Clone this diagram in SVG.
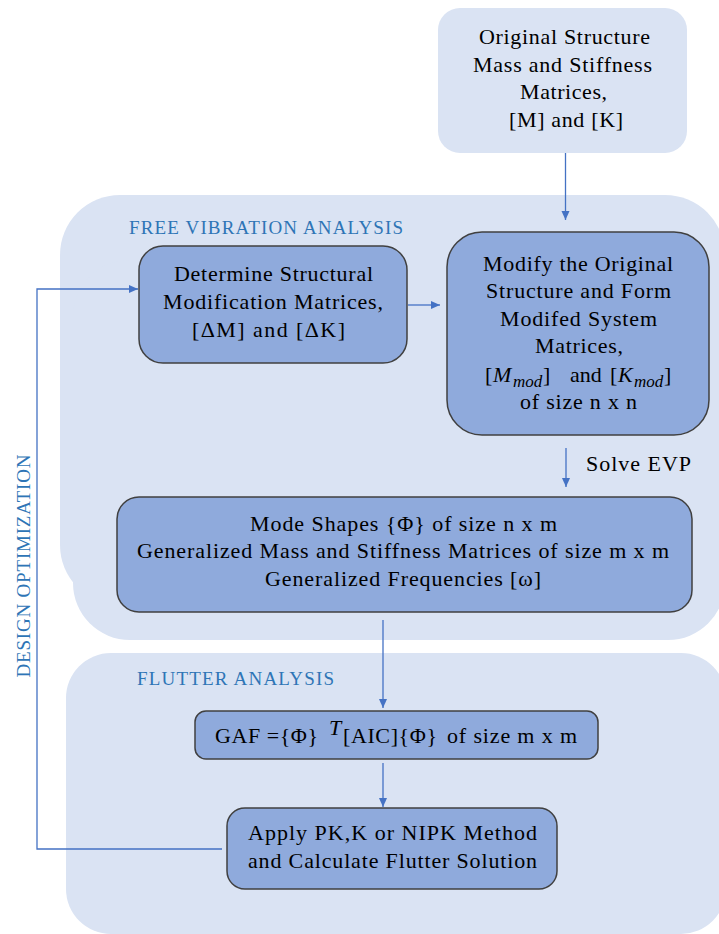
<svg xmlns="http://www.w3.org/2000/svg" width="719" height="934" viewBox="0 0 719 934">
  <defs>
    <marker id="arrow" markerWidth="10" markerHeight="10" refX="9" refY="5" orient="auto" markerUnits="userSpaceOnUse">
      <path d="M0,1 L9,5 L0,9 z" fill="#4472c4"/>
    </marker>
  </defs>
  <style>
    .panel{fill:#dae3f3}
    .box{fill:#8faadc;stroke:#404040;stroke-width:1.5}
    .t{font-family:"Liberation Serif","Times New Roman",serif;font-size:22px;fill:#000}
    .lbl{font-family:"Liberation Serif","Times New Roman",serif;font-size:19px;fill:#2e75b6}
    .conn{stroke:#4472c4;stroke-width:1.3;fill:none}
  </style>

  <rect width="719" height="934" fill="#ffffff"/>

  <!-- background panels -->
  <g id="panel-free-vibration">
    <rect class="panel" x="60" y="195" width="665" height="410" rx="60"/>
    <rect class="panel" x="73" y="260" width="652" height="380" rx="57"/>
    <text class="lbl" x="129" y="234" textLength="274" lengthAdjust="spacing">FREE VIBRATION ANALYSIS</text>
  </g>
  <g id="panel-flutter">
    <rect class="panel" x="66" y="653" width="660" height="281" rx="45"/>
    <text class="lbl" x="137" y="685" textLength="197" lengthAdjust="spacing">FLUTTER ANALYSIS</text>
  </g>

  <!-- nodes -->
  <g id="node-original">
    <rect class="panel" x="438" y="8" width="249" height="145" rx="22"/>
    <text class="t" x="479" y="44" textLength="171" lengthAdjust="spacing">Original  Structure</text>
    <text class="t" x="473" y="72" textLength="179" lengthAdjust="spacing">Mass and Stiffness</text>
    <text class="t" x="520" y="99" textLength="87" lengthAdjust="spacing">Matrices,</text>
    <text class="t" x="509" y="127" textLength="114" lengthAdjust="spacing">[M] and [K]</text>
  </g>

  <g id="node-determine">
    <rect class="box" x="139" y="246" width="268" height="117" rx="24"/>
    <text class="t" x="174" y="281" textLength="199" lengthAdjust="spacing">Determine Structural</text>
    <text class="t" x="163" y="309" textLength="220" lengthAdjust="spacing">Modification  Matrices,</text>
    <text class="t" x="192" y="337" textLength="153" lengthAdjust="spacing">[ΔM] and [ΔK]</text>
  </g>

  <g id="node-modify">
    <rect class="box" x="447" y="232" width="262" height="203" rx="35"/>
    <text class="t" x="483" y="271" textLength="190" lengthAdjust="spacing">Modify the Original</text>
    <text class="t" x="486" y="298" textLength="185" lengthAdjust="spacing">Structure and Form</text>
    <text class="t" x="500" y="326" textLength="157" lengthAdjust="spacing">Modifed System</text>
    <text class="t" x="535" y="353" textLength="88" lengthAdjust="spacing">Matrices,</text>
    <text class="t" y="382">
      <tspan x="485">[</tspan><tspan x="493" font-style="italic">M</tspan><tspan x="513" y="387" font-style="italic" font-size="17">mod</tspan><tspan x="543" y="382">]</tspan>
      <tspan x="570">and</tspan>
      <tspan x="610">[</tspan><tspan x="618" font-style="italic">K</tspan><tspan x="634" y="387" font-style="italic" font-size="17">mod</tspan><tspan x="664" y="382">]</tspan>
    </text>
    <text class="t" x="520" y="409" textLength="117" lengthAdjust="spacing">of size n x n</text>
  </g>

  <g id="node-modes">
    <rect class="box" x="117" y="497" width="575" height="115" rx="22"/>
    <text class="t" x="250" y="531" textLength="307" lengthAdjust="spacing">Mode Shapes {Φ} of size n x m</text>
    <text class="t" x="137" y="558" textLength="532" lengthAdjust="spacing">Generalized Mass and Stiffness Matrices of size m x m</text>
    <text class="t" x="265" y="586" textLength="276" lengthAdjust="spacing">Generalized Frequencies [ω]</text>
  </g>

  <g id="node-gaf">
    <rect class="box" x="195" y="711" width="403" height="48" rx="11"/>
    <text class="t" x="215" y="743" textLength="103" lengthAdjust="spacing">GAF ={Φ}</text>
    <text class="t" x="329" y="735" font-style="italic" font-size="14">T</text>
    <text class="t" x="343" y="743" textLength="94" lengthAdjust="spacing">[AIC]{Φ}</text>
    <text class="t" x="447" y="743" textLength="130" lengthAdjust="spacing">of size m x m</text>
  </g>

  <g id="node-apply">
    <rect class="box" x="227" y="808" width="330" height="81" rx="18"/>
    <text class="t" x="248" y="840" textLength="289" lengthAdjust="spacing">Apply  PK,K or NIPK Method</text>
    <text class="t" x="248" y="868" textLength="289" lengthAdjust="spacing">and Calculate  Flutter Solution</text>
  </g>

  <!-- connectors -->
  <g id="connectors">
    <line class="conn" x1="565.5" y1="153" x2="565.5" y2="220" marker-end="url(#arrow)"/>
    <line class="conn" x1="408" y1="305" x2="440" y2="305" marker-end="url(#arrow)"/>
    <line class="conn" x1="566" y1="448" x2="566" y2="487" marker-end="url(#arrow)"/>
    <text class="t" x="586" y="471" textLength="105" lengthAdjust="spacing">Solve EVP</text>
    <line class="conn" x1="383" y1="620" x2="383" y2="708" marker-end="url(#arrow)"/>
    <line class="conn" x1="383" y1="763" x2="383" y2="807" marker-end="url(#arrow)"/>
    <polyline class="conn" points="222,849 37,849 37,289 138,289" marker-end="url(#arrow)"/>
    <text class="lbl" transform="translate(30,566) rotate(-90)" text-anchor="middle" textLength="223" lengthAdjust="spacing">DESIGN OPTIMIZATION</text>
  </g>
</svg>
